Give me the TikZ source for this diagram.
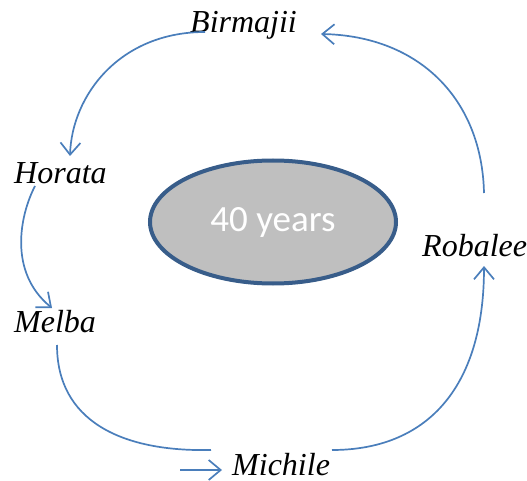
\documentclass[tikz,border=0pt]{standalone}
\usepackage{fontspec}
\setmainfont{Liberation Serif}
\newfontfamily\calib{Carlito}
\usetikzlibrary{arrows.meta,shapes.geometric}
\definecolor{linkblue}{HTML}{4A7EBB}
\definecolor{rimblue}{HTML}{385D8A}
\definecolor{fillgray}{HTML}{BFBFBF}
\begin{document}
\begin{tikzpicture}[x=1pt,y=-1pt,
  personlabel/.style={anchor=base west,inner sep=0pt,font=\fontsize{32}{38}\selectfont\itshape},
  link/.style={draw=linkblue,line width=1.7pt},
  tip/.style={-{Straight Barb[length=12pt,width=20pt]}}]
\useasboundingbox (0,0) rectangle (527,481);
\node[ellipse,draw=rimblue,line width=4pt,fill=fillgray,minimum width=246pt,minimum height=123pt,inner sep=0pt,text=white,font=\calib\fontsize{37}{42}\selectfont] (core) at (273,222) {\raisebox{-3pt}{40 years}};
\node[personlabel] (Birmajii) at (190,33) {Birmajii};
\node[personlabel] (Horata) at (14,183) {Horata};
\node[personlabel] (Melba) at (14,332) {Melba};
\node[personlabel] (Michile) at (232,475) {Michile};
\node[personlabel] (Robalee) at (422,256) {Robalee};
\coordinate (b1) at (205,32);
\coordinate (h0) at (70,156);
\coordinate (h1) at (35,186);
\coordinate (m0) at (52,308);
\coordinate (m1) at (57,345);
\coordinate (c1) at (211,450);
\coordinate (a0) at (180,470);
\coordinate (a1) at (222,470);
\coordinate (c2) at (332,450);
\coordinate (r0) at (484,266);
\coordinate (r1) at (484,193);
\coordinate (b0) at (321,34);
\draw[link,tip] (b1) .. controls (120,32) and (72,95) .. (h0);
\draw[link,tip] (h1) .. controls (20,215) and (8,272) .. (m0);
\draw[link] (m1) .. controls (57,420) and (120,452) .. (c1);
\draw[link,tip] (a0) -- (a1);
\draw[link,tip] (c2) .. controls (425,450) and (484,390) .. (r0);
\draw[link,tip] (r1) .. controls (482,100) and (420,36) .. (b0);
\end{tikzpicture}
\end{document}
